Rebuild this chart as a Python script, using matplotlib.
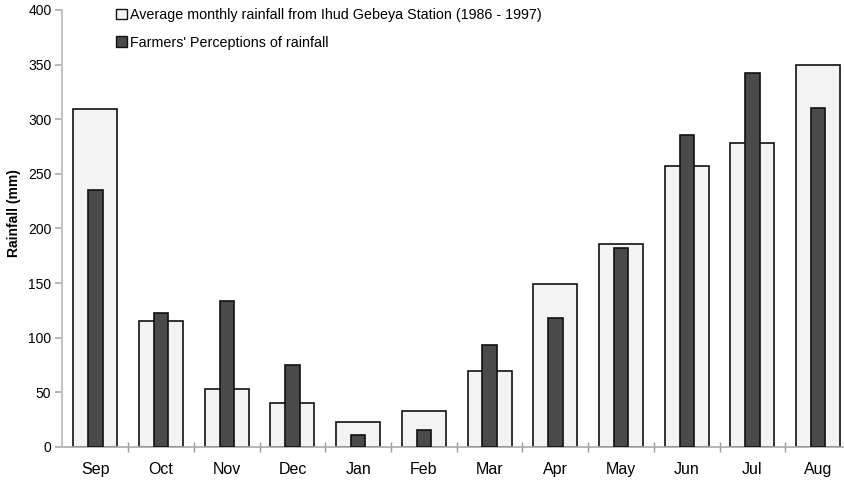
import matplotlib

matplotlib.use("Agg")
import matplotlib.pyplot as plt
import numpy as np
from matplotlib.patches import Patch

plt.rcParams["font.family"] = ["Liberation Sans", "DejaVu Sans"]

MONTHS = ["Sep", "Oct", "Nov", "Dec", "Jan", "Feb",
          "Mar", "Apr", "May", "Jun", "Jul", "Aug"]
STATION_AVG = [309, 115, 53, 40, 23, 33, 70, 149, 186, 257, 278, 350]
PERCEIVED = [235, 123, 134, 75, 11, 16, 93, 118, 182, 286, 342, 310]
LABEL_AVG = "Average monthly rainfall from Ihud Gebeya Station (1986 - 1997)"
LABEL_PERC = "Farmers' Perceptions of rainfall"

W, H = 845, 484
fig = plt.figure(figsize=(W / 100, H / 100), dpi=100)
ax = fig.add_axes([62.5 / W, 37 / H, 788.5 / W, 437 / H])

x = np.arange(len(MONTHS))
ax.bar(x, STATION_AVG, width=0.67, color="#f3f3f3", edgecolor="#111111",
       linewidth=1.2, zorder=2)
ax.bar(x, PERCEIVED, width=0.22, color="#4a4a4a", edgecolor="#111111",
       linewidth=1.2, zorder=3)

ax.set_xlim(-0.5, len(MONTHS) - 0.5)
ax.set_ylim(0, 400)
ax.set_yticks(range(0, 401, 50))
ax.set_xticks(x)
ax.set_xticklabels(MONTHS, fontsize=11.5)
ax.set_xticks(np.arange(0.5, len(MONTHS) - 0.5, 1), minor=True)
ax.tick_params(axis="x", which="major", length=0, pad=11)
ax.tick_params(axis="x", which="minor", length=7, direction="inout",
               color="#999999", width=1)
ax.tick_params(axis="y", length=5, color="#aaaaaa", width=1.2,
               labelsize=10, pad=3)

for side in ("top", "right"):
    ax.spines[side].set_visible(False)
ax.spines["left"].set_color("#c4c4c4")
ax.spines["left"].set_linewidth(1.5)
ax.spines["bottom"].set_color("#aaaaaa")
ax.spines["bottom"].set_linewidth(1.2)

ax.set_ylabel("Rainfall (mm)", fontsize=10, fontweight="bold")
ax.yaxis.set_label_coords((21 - 62.5) / 788.5, (447 - 213.5) / 437)

handles = [
    Patch(facecolor="#f3f3f3", edgecolor="#111111", linewidth=1.0),
    Patch(facecolor="#4a4a4a", edgecolor="#111111", linewidth=1.0),
]
fig.legend(handles, [LABEL_AVG, LABEL_PERC], loc="upper left",
           bbox_to_anchor=(116 / W, 1 - 8 / H), frameon=False, fontsize=10.3,
           handlelength=0.75, handleheight=0.75, handletextpad=0.2,
           labelspacing=0.95, borderpad=0, borderaxespad=0)

fig.savefig("out.png", dpi=100)
